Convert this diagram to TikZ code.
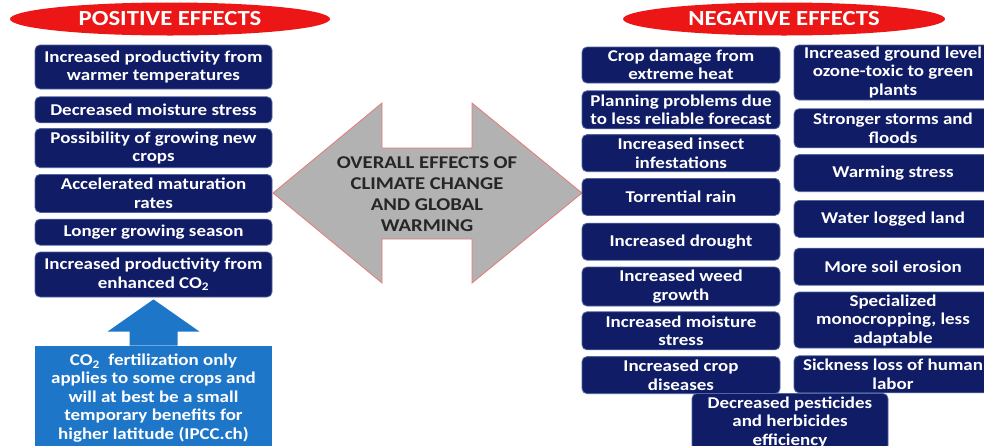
\documentclass[tikz,border=0pt]{standalone}
\usepackage{fontspec}
\setmainfont{Carlito}[FakeStretch=1.15]
\usepackage{xcolor}
\usepackage{tikz}
\usetikzlibrary{positioning,shapes.geometric}
\definecolor{navybox}{RGB}{16,28,102}
\definecolor{navyrim}{RGB}{80,100,160}
\definecolor{co2blue}{RGB}{30,118,200}
\definecolor{titlered}{RGB}{236,22,22}
\definecolor{arrowgray}{RGB}{178,178,178}
\definecolor{arrowrim}{RGB}{232,120,120}

\begin{document}
\begin{tikzpicture}[x=1pt,y=-1pt,node distance=6pt]
\tikzstyle{effect}=[rectangle, rounded corners=5pt, fill=navybox, draw=navyrim, line width=0.8pt, text=white, font=\bfseries\fontsize{16.5}{18.5}\selectfont, align=center, inner xsep=3pt, inner ysep=0pt]
\tikzstyle{poseffect}=[effect, minimum width=237pt]
\tikzstyle{negeffect}=[effect, minimum width=198pt]
\tikzstyle{title}=[ellipse, fill=titlered, text=white, font=\bfseries\fontsize{21.5}{24}\selectfont, inner sep=0pt, minimum height=33pt]
\useasboundingbox (0,0) rectangle (984,445);
\clip (0,0) rectangle (984,445);
  % positive side
  \node[title, minimum width=320pt] (postitle) at (170,19) {POSITIVE EFFECTS};
  \node[poseffect, minimum height=44pt] (p1) at (153.5,67) {Increased productivity from\\warmer temperatures};
  \node[poseffect, minimum height=26pt] (p2) [below=7pt of p1] {Decreased moisture stress};
  \node[poseffect, minimum height=39pt] (p3) [below=5pt of p2] {Possibility of growing new\\crops};
  \node[poseffect, minimum height=38pt] (p4) [below=of p3] {Accelerated maturation\\rates};
  \node[poseffect, minimum height=26pt] (p5) [below=of p4] {Longer growing season};
  \node[poseffect, minimum height=45pt] (p6) [below=of p5] {Increased productivity from\\enhanced CO\textsubscript{2}};
  \node[poseffect, rounded corners=0pt, fill=co2blue, draw=none, minimum height=104pt] (co2) at (153.5,398)
    {CO\textsubscript{2}\ \ fertilization only\\applies to some crops and\\will at best be a small\\temporary benefits for\\higher latitude (IPCC.ch)};
  \fill[co2blue] ([xshift=-24pt]co2.north) -- ++(0,-14) -- ++(-22,0) -- ([yshift=-2pt]p6.south)
        -- ([xshift=46pt,yshift=14pt]co2.north) -- ++(-22,0) -- ([xshift=24pt]co2.north) -- cycle;
  % middle arrow
  \draw[fill=arrowgray, draw=arrowrim, line width=0.8pt] (273,193) -- (382,103) -- (382,148) -- (472,148)
        -- (472,103) -- (582,193) -- (472,283) -- (472,239) -- (382,239) -- (382,283) -- cycle;
  \node[font=\bfseries\fontsize{18}{21}\selectfont, align=center, text=black!85] (overall) at (427,194)
    {OVERALL EFFECTS OF\\CLIMATE CHANGE\\AND GLOBAL\\WARMING};
  % negative side
  \node[title, minimum width=322pt] (negtitle) at (784,19) {NEGATIVE EFFECTS};
  \node[negeffect, minimum height=36pt] (n1) at (681,65) {Crop damage from\\extreme heat};
  \node[negeffect, minimum height=38pt] (n2) [below=7pt of n1] {Planning problems due\\to less reliable forecast};
  \node[negeffect, minimum height=37pt] (n3) [below=5pt of n2] {Increased insect\\infestations};
  \node[negeffect, minimum height=37pt] (n4) [below=of n3] {Torrential rain};
  \node[negeffect, minimum height=37pt] (n5) [below=7pt of n4] {Increased drought};
  \node[negeffect, minimum height=39pt] (n6) [below=of n5] {Increased weed\\growth};
  \node[negeffect, minimum height=38pt] (n7) [below=5pt of n6] {Increased moisture\\stress};
  \node[negeffect, minimum height=37pt] (n8) [below=of n7] {Increased crop\\diseases};
  \node[negeffect, minimum height=55pt] (r1) at (893,72.5) {Increased ground level\\ozone-toxic to green\\plants};
  \node[negeffect, minimum height=39pt] (r2) [below=8pt of r1] {Stronger storms and\\floods};
  \node[negeffect, minimum height=37pt] (r3) [below=of r2] {Warming stress};
  \node[negeffect, minimum height=37pt] (r4) [below=8pt of r3] {Water logged land};
  \node[negeffect, minimum height=37pt] (r5) [below=10pt of r4] {More soil erosion};
  \node[negeffect, minimum height=56pt] (r6) [below=of r5] {Specialized\\monocropping, less\\adaptable};
  \node[negeffect, minimum height=37pt] (r7) [below=7pt of r6] {Sickness loss of human\\labor};
  \node[effect, minimum width=196pt, minimum height=57pt] (d1) at (790,422) {Decreased pesticides\\and herbicides\\efficiency};
\end{tikzpicture}
\end{document}
